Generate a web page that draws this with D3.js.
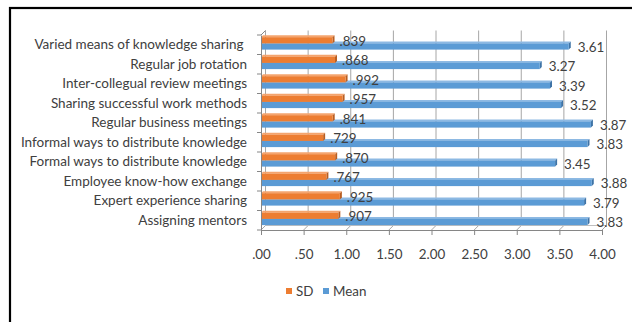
<!DOCTYPE html>
<html>
<head>
<meta charset="utf-8">
<script src="https://cdn.jsdelivr.net/npm/d3@7/dist/d3.min.js"></script>
<style>
  html, body { margin: 0; padding: 0; background: #fff; }
  svg { display: block; }
  text { font-family: Lato, "Open Sans", sans-serif; fill: #404040; }
</style>
</head>
<body>
<svg id="chart" width="632" height="322"></svg>
<script>
// Knowledge-sharing practices: standard deviation and mean scores
const categories = [
  "Varied means of knowledge sharing ",
  "Regular job rotation",
  "Inter-collegual review meetings",
  "Sharing successful work methods",
  "Regular business meetings",
  "Informal ways to distribute knowledge",
  "Formal ways to distribute knowledge",
  "Employee know-how exchange",
  "Expert experience sharing",
  "Assigning mentors"
];
const sdValues   = [0.839, 0.868, 0.992, 0.957, 0.841, 0.729, 0.870, 0.767, 0.925, 0.907];
const sdLabels   = [".839", ".868", ".992", ".957", ".841", ".729", ".870", ".767", ".925", ".907"];
const meanValues = [3.61, 3.27, 3.39, 3.52, 3.87, 3.83, 3.45, 3.88, 3.79, 3.83];
const meanLabels = ["3.61", "3.27", "3.39", "3.52", "3.87", "3.83", "3.45", "3.88", "3.79", "3.83"];
const tickValues = [0, 0.5, 1, 1.5, 2, 2.5, 3, 3.5, 4];
const tickLabels = [".00", ".50", "1.00", "1.50", "2.00", "2.50", "3.00", "3.50", "4.00"];
const seriesNames = ["SD", "Mean"];

const colors = {
  SD:   { face: "#ED7D31", top: "#F4A46E", side: "#B85E22" },
  Mean: { face: "#5B9BD5", top: "#8DB9E3", side: "#3E73A6" }
};

const svg = d3.select("#chart");

// outer frame
svg.append("rect")
  .attr("x", 10).attr("y", 8).attr("width", 640).attr("height", 330)
  .attr("fill", "none").attr("stroke", "#000").attr("stroke-width", 2.2);

const x = d3.scaleLinear().domain([0, 4]).range([261, 602]);
const y = d3.scaleBand().domain(categories).range([35, 230]);
const dx = 4.5, dy = -4.5;           // depth of the back wall

const plotTop = y.range()[0], plotBottom = y.range()[1];

// back wall gridlines
const grid = svg.append("g");
tickValues.forEach(v => {
  grid.append("line")
    .attr("x1", x(v) + dx).attr("x2", x(v) + dx)
    .attr("y1", plotTop + dy).attr("y2", plotBottom + dy)
    .attr("stroke", "#a6a6a6").attr("stroke-width", 1);
  // floor line from front tick to back wall
  grid.append("line")
    .attr("x1", x(v)).attr("x2", x(v) + dx)
    .attr("y1", plotBottom).attr("y2", plotBottom + dy)
    .attr("stroke", "#a6a6a6").attr("stroke-width", 1);
});
// back floor edge and left wall corner
grid.append("line")
  .attr("x1", x(0) + dx).attr("x2", x(4) + dx)
  .attr("y1", plotBottom + dy).attr("y2", plotBottom + dy)
  .attr("stroke", "#bfbfbf");
grid.append("line")
  .attr("x1", x(0)).attr("x2", x(0) + dx)
  .attr("y1", plotTop).attr("y2", plotTop + dy)
  .attr("stroke", "#868686");

// bars with a slight 3D look
const barH = 6.2;
function bar3d(g, v, y0, c) {
  const x0 = x(0), x1 = x(v), d = 2;
  g.append("path")
    .attr("d", `M${x0},${y0} L${x0 + d},${y0 - d} L${x1 + d},${y0 - d} L${x1},${y0} Z`)
    .attr("fill", c.top);
  g.append("path")
    .attr("d", `M${x1},${y0} L${x1 + d},${y0 - d} L${x1 + d},${y0 + barH - d} L${x1},${y0 + barH} Z`)
    .attr("fill", c.side);
  g.append("rect")
    .attr("x", x0).attr("y", y0).attr("width", x1 - x0).attr("height", barH)
    .attr("fill", c.face);
}

const bars = svg.append("g");
categories.forEach((cat, i) => {
  const top = y(cat);
  const ySD = top + 2.2, yMean = top + 2.2 + barH;
  const g = bars.append("g");
  bar3d(g, meanValues[i], yMean, colors.Mean);
  bar3d(g, sdValues[i], ySD, colors.SD);
});

// value labels
const labels = svg.append("g").style("font-size", "13.4px");
categories.forEach((cat, i) => {
  const top = y(cat);
  labels.append("text")
    .attr("x", x(sdValues[i]) + 7).attr("y", top + 6)
    .attr("dy", "0.35em").text(sdLabels[i]);
  labels.append("text")
    .attr("x", x(meanValues[i]) + 9).attr("y", top + 12)
    .attr("dy", "0.35em").text(meanLabels[i]);
});

// category axis
const yAxis = svg.append("g")
  .attr("transform", `translate(${x(0)},0)`)
  .call(d3.axisLeft(y).tickSize(0).tickPadding(14));
yAxis.select(".domain").attr("stroke", "#868686");
yAxis.selectAll("text")
  .style("font-size", "13.5px").style("white-space", "pre")
  .attr("fill", "#404040").attr("font-family", null);
// tick marks at band boundaries
const bounds = categories.map(c => y(c)).concat([plotBottom]);
yAxis.selectAll("line.bound").data(bounds).enter().append("line")
  .attr("class", "bound")
  .attr("x1", -4).attr("x2", 0).attr("y1", d => d).attr("y2", d => d)
  .attr("stroke", "#868686");

// value axis
const xAxis = svg.append("g")
  .attr("transform", `translate(0,${plotBottom})`)
  .call(d3.axisBottom(x).tickValues(tickValues)
    .tickFormat((d, i) => tickLabels[i]).tickSize(5).tickSizeOuter(0).tickPadding(14));
xAxis.select(".domain").attr("stroke", "#868686");
xAxis.selectAll(".tick line").attr("stroke", "#868686");
xAxis.selectAll("text").style("font-size", "13.4px")
  .attr("fill", "#404040").attr("font-family", null);

// legend
const legend = svg.append("g").style("font-size", "13.4px");
const legendX = [286, 323];
seriesNames.forEach((name, i) => {
  legend.append("rect")
    .attr("x", legendX[i]).attr("y", 288).attr("width", 6).attr("height", 6)
    .attr("fill", colors[name].face);
  legend.append("text")
    .attr("x", legendX[i] + 10).attr("y", 291).attr("dy", "0.35em")
    .text(name);
});
</script>
</body>
</html>
